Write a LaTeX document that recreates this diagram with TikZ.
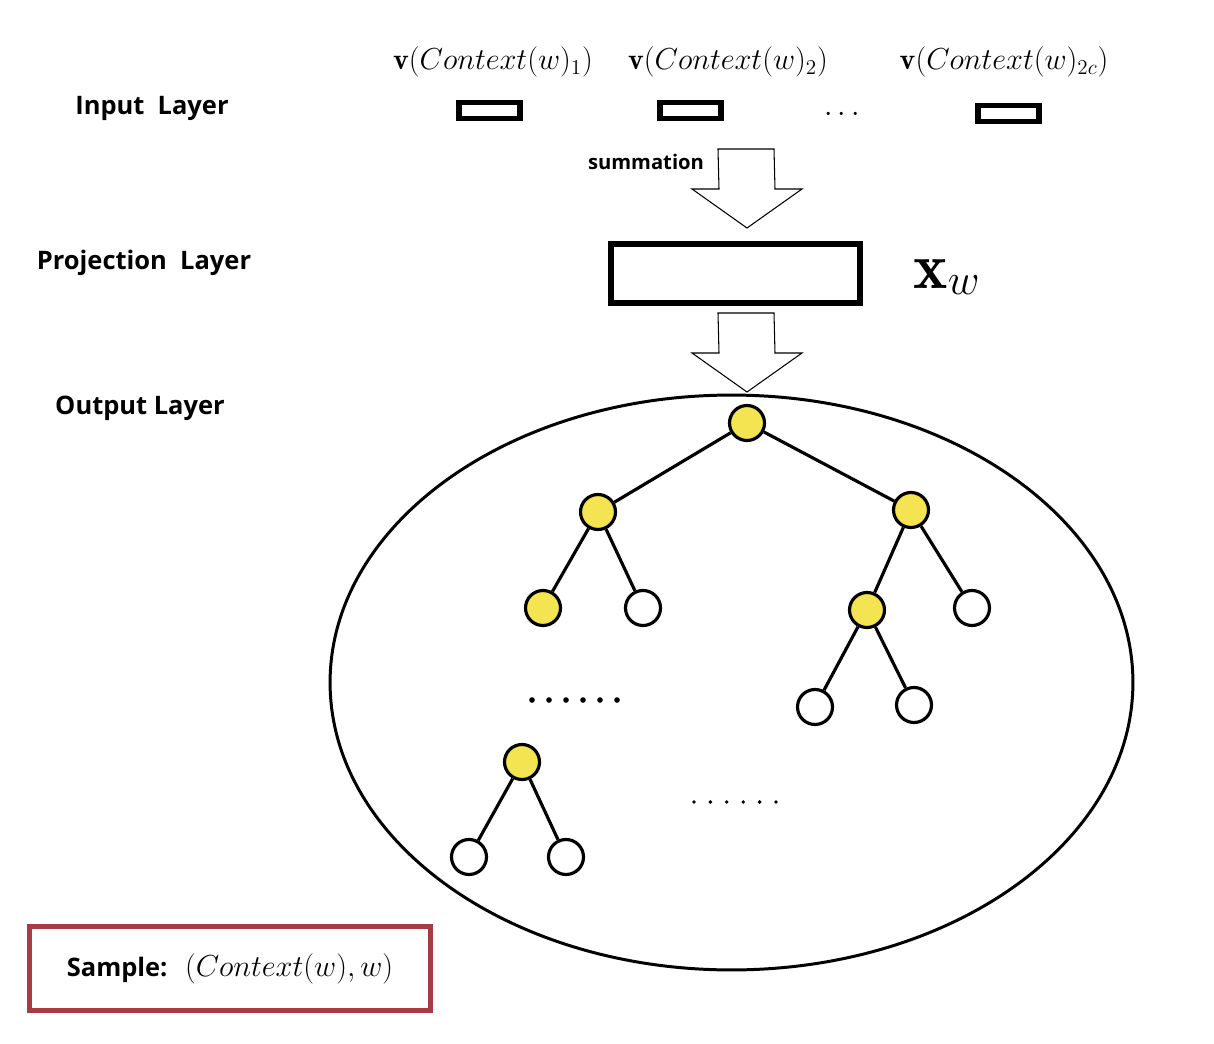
\documentclass[tikz,border=0pt]{standalone}
\usepackage{fontspec}
\newfontfamily\labelfont{Open Sans}
\usetikzlibrary{calc,shapes.geometric}

\definecolor{nodeyellow}{RGB}{245,228,82}
\definecolor{framered}{RGB}{168,58,68}

\tikzset{
	layerlabel/.style={font=\labelfont\bfseries\fontsize{14.5}{17}\selectfont},
	veclabel/.style={font=\fontsize{17}{20}\selectfont},
	vecbox/.style={draw,line width=3.1pt,minimum width=1.22cm,minimum height=0.32cm,inner sep=0pt},
	inner/.style={circle,draw,line width=1.8pt,fill=nodeyellow,minimum size=0.7cm,inner sep=0pt},
	leaf/.style={circle,draw,line width=1.8pt,fill=white,minimum size=0.7cm,inner sep=0pt},
	branch/.style={line width=1.8pt},
	blockarrow/.style={draw,line width=0.6pt,fill=white}
}

% block arrow: #1 top of the stem, #2 the tip
\newcommand{\bigarrow}[2]{%
	\draw[blockarrow] ($(#1)+(-28,0)$) -- ($(#1)+(28,0)$) -- ($(#2)+(28,-39)$) -- ($(#2)+(55,-39)$)
		-- (#2) -- ($(#2)+(-55,-39)$) -- ($(#2)+(-28,-39)$) -- cycle;}

\begin{document}
\begin{tikzpicture}[x=0.02cm,y=-0.02cm]

	\useasboundingbox (0,0) rectangle (1214,1044);

	% layer names
	\node[layerlabel] (inlabel)   at (152,108) {Input\ \ Layer};
	\node[layerlabel] (projlabel) at (144,263) {Projection\ \ Layer};
	\node[layerlabel] (outlabel)  at (140,408) {Output Layer};

	% input layer
	\node[veclabel] (ctx1) at (493,62)  {$\mathbf{v}(Context(w)_1)$};
	\node[veclabel] (ctx2) at (728,62)  {$\mathbf{v}(Context(w)_2)$};
	\node[veclabel] (ctx3) at (1004,62) {$\mathbf{v}(Context(w)_{2c})$};

	\node[vecbox] (in1) at (489.5,110.5) {};
	\node[vecbox] (in2) at (690.5,110.5) {};
	\node[vecbox] (in3) at (1008.5,113.5) {};
	\node[veclabel] (indots) at (842,115) {$\cdots$};

	% summation arrow
	\coordinate (sumtop) at (746,149);
	\coordinate (sumtip) at (747,228);
	\bigarrow{sumtop}{sumtip}
	\node[font=\labelfont\bfseries\fontsize{11.5}{14}\selectfont] (sumlabel) at (646,162) {summation};

	% projection layer
	\node[draw,line width=3.4pt,minimum width=4.98cm,minimum height=1.18cm] (proj) at (735.5,273.5) {};
	\node[font=\fontsize{37}{42}\selectfont] (xw) at (947,277) {$\mathbf{x}_w$};

	% output layer
	\node[ellipse,draw,line width=1.7pt,minimum width=16.06cm,minimum height=11.5cm,inner sep=0pt] (outer) at (731.5,682.5) {};

	\coordinate (outtop) at (746,313);
	\coordinate (outtip) at (747,392);
	\bigarrow{outtop}{outtip}

	% huffman tree
	\node[inner] (root) at (747,423) {};
	\node[inner] (l1)   at (598,512) {};
	\node[inner] (r1)   at (911,510) {};
	\node[inner] (ll)   at (543,608) {};
	\node[leaf]  (lr)   at (643,608) {};
	\node[inner] (rl)   at (867,610) {};
	\node[leaf]  (rr)   at (972,608) {};
	\node[leaf]  (rll)  at (815,707) {};
	\node[leaf]  (rlr)  at (914,705) {};
	\node[inner] (low)  at (522,762) {};
	\node[leaf]  (lowl) at (469,857) {};
	\node[leaf]  (lowr) at (566,857) {};

	\draw[branch] (root) -- (l1);
	\draw[branch] (root) -- (r1);
	\draw[branch] (l1) -- (ll);
	\draw[branch] (l1) -- (lr);
	\draw[branch] (r1) -- (rl);
	\draw[branch] (r1) -- (rr);
	\draw[branch] (rl) -- (rll);
	\draw[branch] (rl) -- (rlr);
	\draw[branch] (low) -- (lowl);
	\draw[branch] (low) -- (lowr);

	% dots
	\foreach \i in {0,...,5}
		\fill (532+\i*17,700) circle (1.6pt);
	\foreach \i in {0,...,5}
		\fill (694+\i*16.4,802) circle (1.1pt);

	% sample
	\node[draw=framered,line width=2.8pt,minimum width=8.02cm,minimum height=1.68cm] (sample) at (230,968.5)
		{{\labelfont\bfseries\fontsize{14.5}{17}\selectfont Sample:}\hspace{10pt}{\fontsize{17}{20}\selectfont$(Context(w),w)$}};

\end{tikzpicture}
\end{document}
